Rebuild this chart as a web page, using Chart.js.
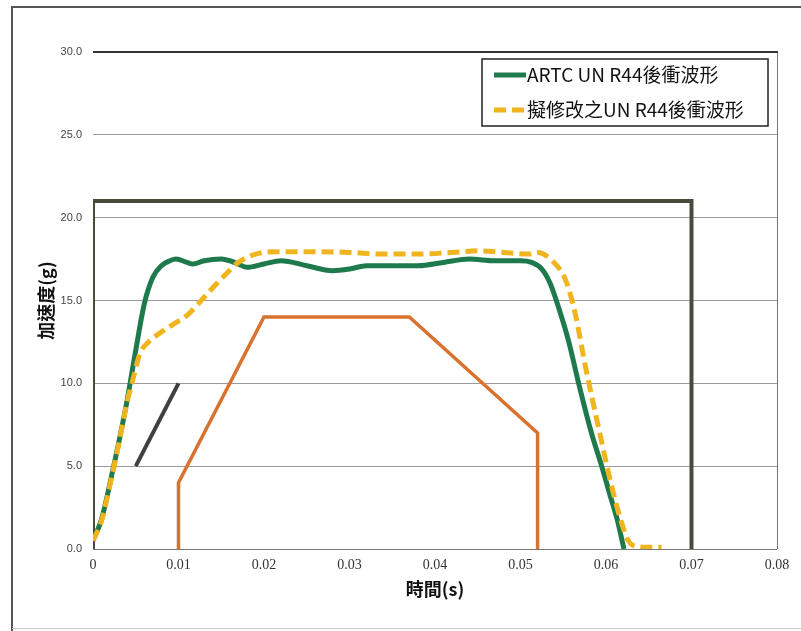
<!DOCTYPE html>
<html>
<head>
<meta charset="utf-8">
<script src="https://cdn.jsdelivr.net/npm/chart.js@4.4.1/dist/chart.umd.min.js"></script>
<style>
  html, body { margin: 0; padding: 0; background: #fff; }
  #wrap { position: relative; width: 801px; height: 631px; }
</style>
</head>
<body>
<div id="wrap"><canvas id="chart" width="801" height="631"></canvas></div>
<script>
// time (s) / acceleration (g)
const artcTime = [0, 0.001, 0.002, 0.003, 0.004, 0.005, 0.006, 0.007, 0.008, 0.009, 0.0097, 0.011, 0.0117, 0.013, 0.015, 0.016, 0.017, 0.018, 0.020, 0.022, 0.025, 0.028, 0.030, 0.032, 0.035, 0.038, 0.041, 0.044, 0.047, 0.050, 0.0513, 0.0525, 0.0535, 0.0545, 0.0556, 0.0568, 0.0583, 0.0595, 0.0605, 0.0613, 0.0621];
const artcAcc  = [0.5, 1.8, 4.0, 6.4, 9.0, 12.0, 14.8, 16.4, 17.1, 17.4, 17.5, 17.3, 17.2, 17.4, 17.5, 17.4, 17.2, 17.0, 17.2, 17.4, 17.1, 16.8, 16.9, 17.1, 17.1, 17.1, 17.3, 17.5, 17.4, 17.4, 17.3, 16.9, 16.0, 14.5, 12.6, 10.0, 7.0, 5.0, 3.2, 1.8, 0];

const newTime = [0, 0.001, 0.002, 0.003, 0.004, 0.0047, 0.0055, 0.0065, 0.008, 0.0095, 0.011, 0.013, 0.015, 0.017, 0.019, 0.022, 0.026, 0.030, 0.034, 0.038, 0.042, 0.045, 0.048, 0.051, 0.052, 0.0535, 0.0553, 0.0564, 0.0576, 0.0591, 0.0607, 0.0617, 0.0625, 0.0635, 0.065, 0.0665];
const newAcc  = [0.5, 1.7, 3.9, 6.3, 8.9, 10.3, 11.8, 12.5, 13.1, 13.6, 14.1, 15.2, 16.3, 17.3, 17.8, 17.95, 17.95, 17.9, 17.8, 17.8, 17.9, 18.0, 17.9, 17.8, 17.9, 17.5, 16.2, 14.2, 11.0, 7.4, 3.7, 1.8, 0.6, 0.15, 0.1, 0.1];

const corridorTime = [0.01, 0.01, 0.02, 0.037, 0.052, 0.052];
const corridorAcc  = [0, 4, 14, 14, 7, 0];

const upperTime = [0, 0, 0.07, 0.07];
const upperAcc  = [0, 21, 21, 0];

const slopeTime = [0.005, 0.01];
const slopeAcc  = [5, 10];

const labelArtc = 'ARTC UN R44後衝波形';
const labelNew = '擬修改之UN R44後衝波形';

function pts(xs, ys) {
    return xs.map((x, i) => ({ x: x, y: ys[i] }));
}

const cjk = '"Noto Sans CJK TC", "Noto Sans", sans-serif';

const frame = {
    id: 'frame',
    beforeDraw(chart) {
        const ctx = chart.ctx;
        ctx.save();
        ctx.fillStyle = '#fff';
        ctx.fillRect(0, 0, chart.width, chart.height);
        ctx.strokeStyle = '#555';
        ctx.lineWidth = 2;
        ctx.beginPath();
        ctx.moveTo(12, 631);
        ctx.lineTo(12, 7);
        ctx.lineTo(801, 7);
        ctx.stroke();
        ctx.strokeStyle = '#c8c8c8';
        ctx.lineWidth = 1;
        ctx.beginPath();
        ctx.moveTo(12, 628.5);
        ctx.lineTo(801, 628.5);
        ctx.stroke();
        ctx.restore();
    },
    beforeDatasetsDraw(chart) {
        const a = chart.chartArea;
        const ctx = chart.ctx;
        ctx.save();
        ctx.strokeStyle = '#777';
        ctx.lineWidth = 1;
        ctx.beginPath();
        ctx.moveTo(a.right + 0.5, a.top);
        ctx.lineTo(a.right + 0.5, a.bottom);
        ctx.moveTo(a.left, a.bottom + 0.5);
        ctx.lineTo(a.right, a.bottom + 0.5);
        ctx.stroke();
        ctx.strokeStyle = '#333';
        ctx.lineWidth = 2;
        ctx.beginPath();
        ctx.moveTo(a.left, a.top);
        ctx.lineTo(a.right + 1, a.top);
        ctx.stroke();
        ctx.restore();
    }
};

const legendBox = {
    id: 'legendBox',
    afterDraw(chart) {
        const ctx = chart.ctx;
        const left = 482, top = 59, w = 286, h = 67;
        ctx.save();
        ctx.fillStyle = '#fff';
        ctx.fillRect(left, top, w, h);
        ctx.strokeStyle = '#222';
        ctx.lineWidth = 1.5;
        ctx.strokeRect(left, top, w, h);
        const items = chart.data.datasets.filter(d => d.label === labelArtc || d.label === labelNew)
            .sort((p, q) => (p.label === labelArtc ? -1 : 1));
        items.forEach((d, i) => {
            const y = top + 16 + i * 35;
            ctx.strokeStyle = d.borderColor;
            ctx.lineWidth = 5;
            ctx.setLineDash(d.borderDash || []);
            ctx.beginPath();
            ctx.moveTo(left + 12, y);
            ctx.lineTo(left + 44, y);
            ctx.stroke();
            ctx.setLineDash([]);
            ctx.fillStyle = '#111';
            ctx.font = '19px ' + cjk;
            ctx.textBaseline = 'middle';
            ctx.fillText(d.label, left + 45, y);
        });
        ctx.restore();
    }
};

new Chart(document.getElementById('chart'), {
    type: 'scatter',
    data: {
        datasets: [
            {
                label: labelNew,
                data: pts(newTime, newAcc),
                showLine: true,
                borderColor: '#F0B51E',
                borderWidth: 5,
                borderDash: [12, 6],
                cubicInterpolationMode: 'monotone',
                pointRadius: 0
            },
            {
                label: labelArtc,
                data: pts(artcTime, artcAcc),
                showLine: true,
                borderColor: '#1E7A4C',
                borderWidth: 5,
                cubicInterpolationMode: 'monotone',
                pointRadius: 0
            },
            {
                label: 'corridor',
                data: pts(corridorTime, corridorAcc),
                showLine: true,
                borderColor: '#D9722E',
                borderWidth: 3.5,
                tension: 0,
                pointRadius: 0
            },
            {
                label: 'slope',
                data: pts(slopeTime, slopeAcc),
                showLine: true,
                borderColor: '#404040',
                borderWidth: 4,
                tension: 0,
                pointRadius: 0
            },
            {
                label: 'upper',
                data: pts(upperTime, upperAcc),
                showLine: true,
                borderColor: '#4A4A3C',
                borderWidth: 4,
                tension: 0,
                pointRadius: 0
            }
        ]
    },
    options: {
        responsive: false,
        animation: false,
        layout: { padding: { left: 30, top: 52, right: 24, bottom: 22 } },
        plugins: {
            legend: { display: false },
            tooltip: { enabled: false }
        },
        scales: {
            x: {
                type: 'linear',
                min: 0,
                max: 0.08,
                afterFit: s => { s.height = 60; },
                ticks: {
                    stepSize: 0.01,
                    padding: 8,
                    color: '#333',
                    font: { family: '"Liberation Serif", serif', size: 14 },
                    callback: v => (v === 0 ? '0' : v.toFixed(2))
                },
                grid: { drawOnChartArea: false, drawTicks: false },
                border: { display: false },
                title: {
                    display: true,
                    text: '時間(s)',
                    color: '#111',
                    padding: { top: 0, bottom: 9 },
                    font: { family: cjk, size: 18, weight: 'bold' }
                }
            },
            y: {
                min: 0,
                max: 30,
                afterFit: s => { s.width = 63; },
                ticks: {
                    stepSize: 5,
                    padding: 11,
                    color: '#444',
                    font: { family: '"Liberation Sans", sans-serif', size: 11 },
                    callback: v => v.toFixed(1)
                },
                grid: { color: '#9a9a9a', drawTicks: false },
                border: { display: false },
                title: {
                    display: true,
                    text: '加速度(g)',
                    color: '#111',
                    padding: { top: 5, bottom: 0 },
                    font: { family: cjk, size: 18, weight: 'bold' }
                }
            }
        }
    },
    plugins: [frame, legendBox]
});
</script>
</body>
</html>
